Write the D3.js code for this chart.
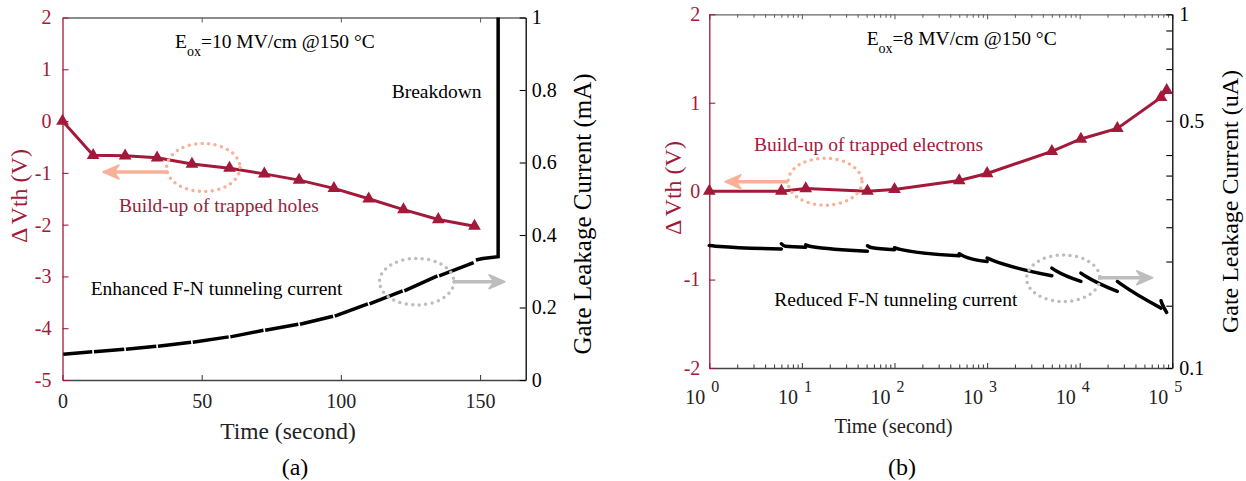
<!DOCTYPE html>
<html>
<head>
<meta charset="utf-8">
<script src="https://cdn.jsdelivr.net/npm/d3@7"></script>
<style>
  body { margin: 0; background: #fff; }
  text { font-family: "Liberation Serif", "Times New Roman", serif; }
</style>
</head>
<body>
<svg id="chart" width="1246" height="481"></svg>
<script>
// ---- panel (a) data ----
const timeA = [0, 11, 22.5, 34, 46.5, 60, 72.5, 85, 97.5, 110, 122.5, 135, 148];
const dvthA = [0, -0.66, -0.67, -0.71, -0.83, -0.91, -1.02, -1.14, -1.30, -1.50, -1.71, -1.90, -2.03];
const currentA = [0.071, 0.078, 0.085, 0.093, 0.104, 0.119, 0.137, 0.154, 0.176, 0.21, 0.246, 0.287, 0.324];
const breakTime = [148.5, 151, 156.5, 156.5];
const breakCurrent = [0.331, 0.335, 0.34, 1.0];
const ticksA_x = [0, 50, 100, 150];
const ticksA_y = [-5, -4, -3, -2, -1, 0, 1, 2];
const ticksA_y2 = [0, 0.2, 0.4, 0.6, 0.8, 1];

// ---- panel (b) data ----
const timeB = [1, 6, 11, 51, 100, 500, 1000, 5000, 10300, 25500, 75500, 87000];
const dvthB = [0, 0, 0.03, 0, 0.02, 0.12, 0.2, 0.45, 0.59, 0.71, 1.06, 1.14];
// leakage current measured between two stress interruptions (uA)
const segTimeB = [
  [1, 1.3, 6], [6, 6.6, 11], [11, 12.5, 51], [51, 56, 100], [100, 115, 500],
  [500, 560, 1000], [1000, 1150, 5000], [5000, 5600, 10300], [10300, 11500, 25500],
  [25500, 28500, 75500], [75500, 77500, 87000]
];
const segCurrentB = [
  [0.222, 0.2205, 0.217], [0.2245, 0.221, 0.2195], [0.223, 0.2205, 0.214], [0.2216, 0.219, 0.216],
  [0.2187, 0.2165, 0.2076], [0.2104, 0.207, 0.200], [0.2045, 0.2015, 0.1823], [0.1916, 0.188, 0.1757],
  [0.1855, 0.182, 0.1646], [0.1757, 0.172, 0.1477], [0.155, 0.152, 0.1436]
];
const ticksB_y = [-2, -1, 0, 1, 2];
const ticksB_y2 = [0.15, 0.2, 0.25, 0.3, 0.35, 0.4, 0.5, 0.6, 0.7, 0.8, 0.9, 1];
const labelsB_y2 = [0.1, 0.5, 1];

const red = "#a3193a", salmon = "#f9b096", grey = "#bdbdbd";
const svg = d3.select("#chart");

// ---------- helpers ----------
function arrow(g, x1, x2, y, color) {
  const dir = x2 > x1 ? 1 : -1;
  g.append("line")
    .attr("x1", x1).attr("y1", y).attr("x2", x2 - dir * 10).attr("y2", y)
    .attr("stroke", color).attr("stroke-width", 3.5);
  g.append("path")
    .attr("d", `M${x2},${y} L${x2 - dir * 16},${y - 7} L${x2 - dir * 11},${y} L${x2 - dir * 16},${y + 7} Z`)
    .attr("fill", color).attr("stroke", color).attr("stroke-width", 1.5).attr("stroke-linejoin", "round");
}
function dottedEllipse(g, cx, cy, rx, ry, color) {
  g.append("ellipse")
    .attr("cx", cx).attr("cy", cy).attr("rx", rx).attr("ry", ry)
    .attr("fill", "none").attr("stroke", color).attr("stroke-width", 3.5)
    .attr("stroke-dasharray", "0 6.5").attr("stroke-linecap", "round");
}
function eoxLabel(g, x, y, value) {
  const t = g.append("text").attr("x", x).attr("y", y).style("font-size", "19.5px").attr("fill", "#000");
  t.append("tspan").text("E");
  t.append("tspan").attr("dy", 7.5).style("font-size", "14px").text("ox");
  t.append("tspan").attr("dy", -7.5).text("=" + value + " MV/cm @150  °C");
}
function dvthLabel(g, x, y, size) {
  const t = g.append("text").attr("transform", `translate(${x},${y}) rotate(-90)`).attr("text-anchor", "middle")
    .style("font-size", size + "px").attr("fill", red);
  t.append("tspan").text("Δ");
  t.append("tspan").attr("dx", 3).text("Vth (V)");
}
function styleAxis(g, color, size) {
  g.select(".domain").attr("stroke", color).attr("stroke-width", 1.3);
  g.selectAll(".tick line").attr("stroke", color).attr("stroke-width", 1.1);
  g.selectAll(".tick text").attr("fill", color).style("font-size", size + "px")
    .style("font-family", '"Liberation Serif", serif');
}

// =============== panel (a) ===============
const xA = d3.scaleLinear([0, 166.4], [62.5, 525.7]);
const yA = d3.scaleLinear([-5, 2], [380, 17.5]);
const yA2 = d3.scaleLinear([0, 1], [380, 17.5]);
const gA = svg.append("g");

gA.append("g").attr("transform", "translate(0,17.5)")
  .call(d3.axisTop(xA).tickValues([50, 100, 150]).tickSize(-5).tickSizeOuter(0).tickFormat(""))
  .call(g => styleAxis(g, "#666", 20));
gA.append("g").attr("transform", "translate(0,380)")
  .call(d3.axisBottom(xA).tickValues(ticksA_x).tickSize(-5).tickSizeOuter(0).tickPadding(14).tickFormat(d => d))
  .call(g => styleAxis(g, "#444", 20))
  .call(g => g.selectAll(".tick text").attr("fill", "#222"));
gA.append("g").attr("transform", "translate(62.5,0)")
  .call(d3.axisLeft(yA).tickValues(ticksA_y).tickSize(-6).tickSizeOuter(0).tickPadding(11).tickFormat(d => String(d)))
  .call(g => styleAxis(g, red, 20));
gA.append("g").attr("transform", "translate(525.7,0)")
  .call(d3.axisRight(yA2).tickValues(ticksA_y2).tickSize(-6).tickSizeOuter(0).tickPadding(6).tickFormat(d => String(d)))
  .call(g => styleAxis(g, "#000", 20));

// black leakage curve, one stroke per stress interval
const lineA = d3.line().x(d => xA(d[0])).y(d => yA2(d[1])).curve(d3.curveMonotoneX);
for (let i = 0; i < timeA.length - 1; i++) {
  gA.append("path")
    .attr("d", lineA([[timeA[i] + 0.3, currentA[i]], [timeA[i + 1] - 0.3, currentA[i + 1]]]))
    .attr("fill", "none").attr("stroke", "#000").attr("stroke-width", 3.5);
}
gA.append("path")
  .attr("d", d3.line().x(d => xA(d[0])).y(d => yA2(d[1]))(breakTime.map((t, i) => [t, breakCurrent[i]])))
  .attr("fill", "none").attr("stroke", "#000").attr("stroke-width", 3.5);

// red threshold shift
gA.append("path")
  .attr("d", d3.line().x(d => xA(d[0])).y(d => yA(d[1]))(timeA.map((t, i) => [t, dvthA[i]])))
  .attr("fill", "none").attr("stroke", red).attr("stroke-width", 3);
gA.selectAll(".mkA").data(timeA).join("path")
  .attr("transform", (t, i) => `translate(${xA(t)},${yA(dvthA[i])})`)
  .attr("d", d3.symbol(d3.symbolTriangle, 70)).attr("fill", red);

// annotations (a)
eoxLabel(gA, 175, 48.3, "10");
gA.append("text").attr("x", 391.7).attr("y", 98.3).style("font-size", "19.5px").text("Breakdown");
gA.append("text").attr("x", 119).attr("y", 211.7).style("font-size", "19.5px").attr("fill", red).text("Build-up of trapped holes");
gA.append("text").attr("x", 90.7).attr("y", 295).style("font-size", "19.5px").text("Enhanced F-N tunneling current");
dottedEllipse(gA, 203.3, 167.5, 36.7, 24, salmon);
arrow(gA, 168, 103, 172, salmon);
dottedEllipse(gA, 416.7, 281.7, 37.2, 23.3, grey);
arrow(gA, 453, 505, 281.7, grey);

dvthLabel(gA, 27, 196, 24);
gA.append("text").attr("transform", "translate(591,214) rotate(-90)").attr("text-anchor", "middle")
  .style("font-size", "25px").text("Gate Leakage Current (mA)");
gA.append("text").attr("x", 288).attr("y", 439.3).attr("text-anchor", "middle").style("font-size", "23.5px")
  .attr("fill", "#222").text("Time (second)");
gA.append("text").attr("x", 295).attr("y", 475).attr("text-anchor", "middle").style("font-size", "24px").text("(a)");

// =============== panel (b) ===============
const xB = d3.scaleLog([1, 1e5], [709.3, 1172.3]);
const yB = d3.scaleLinear([-2, 2], [368, 14.3]);
const yB2 = d3.scaleLog([0.1, 1], [368, 14.3]);
const gB = svg.append("g");

const logTicks = xB.ticks();
const isMajor = d => Math.abs(Math.log10(d) - Math.round(Math.log10(d))) < 1e-6;
gB.append("g").attr("transform", "translate(0,14.3)")
  .call(d3.axisTop(xB).tickValues(logTicks).tickSize(-5).tickSizeOuter(0).tickFormat(""))
  .call(g => styleAxis(g, "#666", 20))
  .call(g => g.selectAll(".tick line").attr("y2", d => isMajor(d) ? 5 : 3.5));
gB.append("g").attr("transform", "translate(0,368)")
  .call(d3.axisBottom(xB).tickValues(logTicks).tickSize(-5).tickSizeOuter(0).tickFormat(""))
  .call(g => styleAxis(g, "#444", 20))
  .call(g => g.selectAll(".tick line").attr("y2", d => isMajor(d) ? -5 : -3.5));
gB.append("g").attr("transform", "translate(709.3,0)")
  .call(d3.axisLeft(yB).tickValues(ticksB_y).tickSize(-6).tickSizeOuter(0).tickPadding(9).tickFormat(d => String(d)))
  .call(g => styleAxis(g, red, 20));
gB.append("g").attr("transform", "translate(1172.3,0)")
  .call(d3.axisRight(yB2).tickValues(ticksB_y2.concat([0.1])).tickSize(-6).tickSizeOuter(0).tickPadding(7)
    .tickFormat(d => labelsB_y2.includes(d) ? String(d) : ""))
  .call(g => styleAxis(g, "#000", 20));

// x tick labels 10^n
const decades = logTicks.filter(isMajor);
const xl = gB.append("g").attr("fill", "#222");
xl.selectAll(".base").data(decades).join("text")
  .attr("x", d => xB(d) - 4).attr("y", 404).attr("text-anchor", "end").style("font-size", "20px").text("10");
xl.selectAll(".exp").data(decades).join("text")
  .attr("x", d => xB(d) + 2).attr("y", 392).style("font-size", "16px").text(d => Math.round(Math.log10(d)));

// black leakage curve segments
const lineB = d3.line().x(d => xB(d[0])).y(d => yB2(d[1])).curve(d3.curveMonotoneX);
segTimeB.forEach((ts, k) => {
  gB.append("path")
    .attr("d", lineB(ts.map((t, i) => [t, segCurrentB[k][i]])))
    .attr("fill", "none").attr("stroke", "#000").attr("stroke-width", 3.5).attr("stroke-linecap", "round");
});

// red threshold shift
gB.append("path")
  .attr("d", d3.line().x(d => xB(d[0])).y(d => yB(d[1]))(timeB.map((t, i) => [t, dvthB[i]])))
  .attr("fill", "none").attr("stroke", red).attr("stroke-width", 3);
gB.selectAll(".mkB").data(timeB).join("path")
  .attr("transform", (t, i) => `translate(${xB(t)},${yB(dvthB[i])})`)
  .attr("d", d3.symbol(d3.symbolTriangle, 70)).attr("fill", red);

// annotations (b)
eoxLabel(gB, 866.7, 45, "8");
gB.append("text").attr("x", 754).attr("y", 151).style("font-size", "19.5px").attr("fill", red).text("Build-up of trapped electrons");
gB.append("text").attr("x", 774.3).attr("y", 306).style("font-size", "19.5px").text("Reduced F-N tunneling current");
dottedEllipse(gB, 825, 181.7, 37, 23.5, salmon);
arrow(gB, 788, 725, 181.7, salmon);
dottedEllipse(gB, 1063.3, 278.3, 36.7, 23.3, grey);
arrow(gB, 1098, 1152.7, 277.7, grey);

dvthLabel(gB, 681, 188, 24);
gB.append("text").attr("transform", "translate(1238,201.5) rotate(-90)").attr("text-anchor", "middle")
  .style("font-size", "24px").text("Gate Leakage Current (uA)");
gB.append("text").attr("x", 893.5).attr("y", 433).attr("text-anchor", "middle").style("font-size", "20.5px")
  .attr("fill", "#222").text("Time (second)");
gB.append("text").attr("x", 902).attr("y", 475).attr("text-anchor", "middle").style("font-size", "24px").text("(b)");
</script>
</body>
</html>
